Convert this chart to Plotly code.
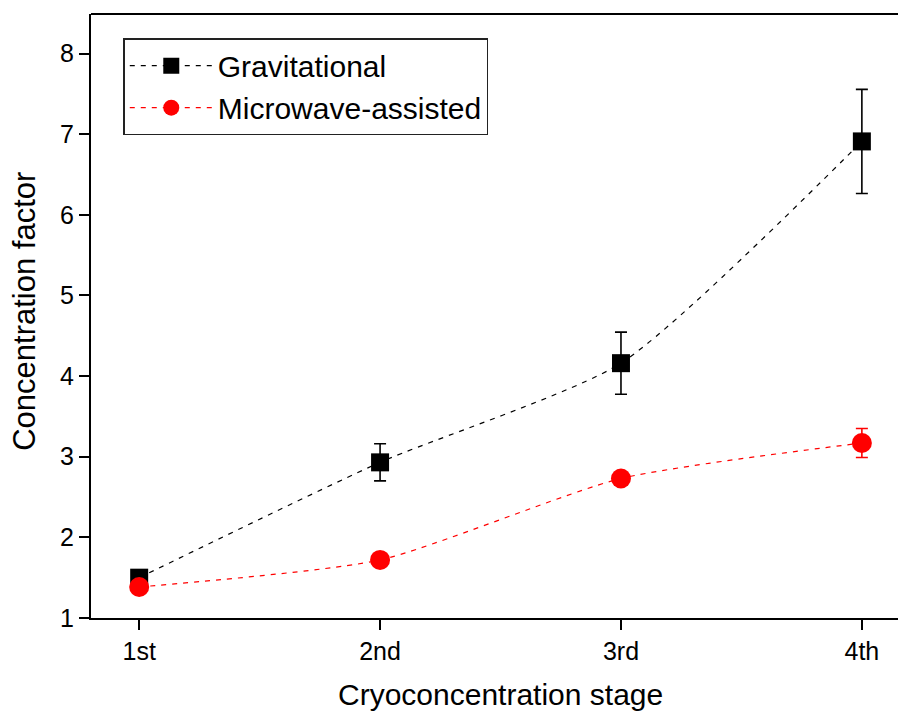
import plotly.graph_objects as go

stages = [1, 2, 3, 4]
stage_labels = ["1st", "2nd", "3rd", "4th"]
grav = [1.50, 2.93, 4.16, 6.91]
grav_err = [0.0, 0.23, 0.385, 0.645]
micro = [1.385, 1.72, 2.73, 3.17]
micro_err = [0.0, 0.0, 0.0, 0.18]
y_ticks = [1, 2, 3, 4, 5, 6, 7, 8]

FONT = "Liberation Sans, Arial, sans-serif"

fig = go.Figure()
fig.add_trace(go.Scatter(
    x=stages, y=grav, name="Gravitational", mode="lines+markers",
    line=dict(color="black", width=1.2, dash="5px,6px", shape="spline", smoothing=0.6),
    marker=dict(symbol="square", size=18, color="black"),
    error_y=dict(type="data", array=grav_err, visible=True, color="black", thickness=1.6, width=6),
))
fig.add_trace(go.Scatter(
    x=stages, y=micro, name="Microwave-assisted", mode="lines+markers",
    line=dict(color="red", width=1.2, dash="5px,6px", shape="spline", smoothing=0.6),
    marker=dict(symbol="circle", size=20, color="red"),
    error_y=dict(type="data", array=micro_err, visible=True, color="red", thickness=1.6, width=6),
))

fig.update_layout(
    width=898, height=713,
    margin=dict(l=91, r=0, t=14, b=95),
    paper_bgcolor="white", plot_bgcolor="white",
    font=dict(family=FONT, color="black", size=24),
    showlegend=True,
    legend=dict(
        x=0.04, y=0.96, xanchor="left", yanchor="top",
        bordercolor="#222222", borderwidth=1.5, bgcolor="white",
        font=dict(size=30, family=FONT, color="black"),
        tracegroupgap=0, itemwidth=83,
    ),
    xaxis=dict(
        range=[0.8, 4.15], tickvals=stages, ticktext=stage_labels,
        showline=True, linecolor="black", linewidth=2,
        ticks="outside", ticklen=10, tickwidth=2, tickcolor="black",
        showgrid=False, zeroline=False,
        tickfont=dict(size=25, family=FONT, color="black"),
    ),
    yaxis=dict(
        range=[1, 8.49], tickvals=y_ticks,
        showline=True, linecolor="black", linewidth=2,
        ticks="outside", ticklen=10, tickwidth=2, tickcolor="black",
        showgrid=False, zeroline=False,
        tickfont=dict(size=25, family=FONT, color="black"),
    ),
    shapes=[dict(type="line", xref="paper", yref="paper", x0=0, x1=1, y0=1, y1=1,
                 line=dict(color="black", width=2))],
    annotations=[
        dict(text="Cryoconcentration stage", xref="x", x=2.5, yref="paper", y=0,
             yshift=-76, xanchor="center", yanchor="middle", showarrow=False,
             font=dict(size=30, family=FONT, color="black")),
        dict(text="Concentration factor", xref="paper", x=0, yref="paper", y=0.507,
             xshift=-66, xanchor="center", yanchor="middle", textangle=-90, showarrow=False,
             font=dict(size=31, family=FONT, color="black")),
    ],
)

fig.write_html("out.html")
